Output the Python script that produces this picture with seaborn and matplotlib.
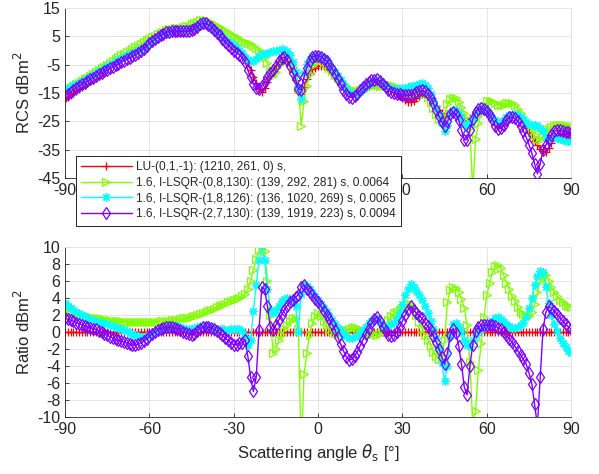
import numpy as np
import matplotlib
matplotlib.use("Agg")
import matplotlib.pyplot as plt
import seaborn as sns

# scattering angle, 1 degree steps
theta = np.arange(-90, 91)

# --- RCS (dBm^2) ---
rcs_lu = [
    -17.0, -16.3, -15.6, -14.9, -14.2, -13.5, -12.8, -12.1, -11.4, -10.7,
    -10.0, -9.3, -8.6, -7.9, -7.2, -6.5, -5.8, -5.1, -4.4, -3.7,
    -3.0, -2.4, -1.8, -1.2, -0.6, 0.0, 0.6, 1.2, 1.8, 2.4,
    3.0, 3.5, 4.0, 4.5, 5.0, 5.4, 5.8, 6.1, 6.3, 6.4,
    6.5, 6.6, 6.7, 6.9, 7.1, 7.4, 7.8, 8.3, 8.8, 9.1,
    9.0, 8.5, 7.8, 7.0, 6.2, 5.4, 4.6, 3.8, 3.0, 2.2,
    1.4, 0.6, -0.2, -1.2, -2.5, -4.5, -6.8, -9.2, -11.5, -13.5,
    -14.8, -13.2, -11.0, -9.0, -7.5, -6.0, -4.6, -3.6, -3.2, -3.6,
    -5.2, -7.5, -10.5, -14.0, -15.5, -13.0, -10.0, -8.0, -6.6, -6.0,
    -5.6, -5.4, -5.4, -5.8, -6.5, -7.4, -8.4, -9.5, -10.6, -11.7,
    -12.8, -13.8, -14.5, -14.8, -14.8, -14.4, -13.8, -13.2, -12.7, -12.3,
    -12.1, -12.0, -12.2, -12.6, -13.1, -13.6, -14.1, -14.6, -15.2, -15.9,
    -16.7, -17.5, -18.1, -18.3, -17.8, -16.9, -16.0, -15.4, -15.2, -15.6,
    -16.6, -18.0, -19.6, -21.0, -22.0, -22.5, -22.3, -22.0, -21.9, -22.1,
    -22.9, -24.0, -25.0, -25.0, -24.0, -22.8, -21.8, -21.2, -21.0, -21.4,
    -22.3, -23.6, -25.0, -26.3, -27.0, -26.8, -25.8, -24.5, -23.4, -22.9,
    -22.9, -23.4, -24.3, -25.5, -27.0, -28.6, -30.2, -31.8, -33.3, -34.6,
    -35.5, -35.7, -34.5, -32.5, -31.0, -30.2, -29.8, -29.6, -29.5, -29.4,
    -29.4,
]
rcs_g = [
    -14.4, -13.8, -13.2, -12.6, -12.0, -11.4, -10.8, -10.2, -9.6, -8.95,
    -8.3, -7.65, -7.0, -6.35, -5.7, -5.05, -4.4, -3.75, -3.1, -2.4,
    -1.75, -1.2, -0.6, 0.0, 0.55, 1.15, 1.75, 2.35, 2.95, 3.55,
    4.15, 4.7, 5.2, 5.7, 6.25, 6.7, 7.1, 7.45, 7.7, 7.8,
    7.95, 8.1, 8.3, 8.55, 8.8, 9.2, 9.7, 10.2, 10.6, 10.9,
    10.8, 10.5, 10.0, 9.4, 8.8, 8.2, 7.6, 7.0, 6.4, 5.8,
    5.2, 4.6, 4.0, 3.5, 3.0, 2.6, 2.2, 1.7, 1.0, 0.2,
    -1.0, -2.4, -4.5, -7.5, -9.0, -7.5, -5.0, -3.6, -2.9, -2.8,
    -3.9, -5.8, -8.8, -13.5, -26.5, -18.0, -12.5, -8.3, -5.6, -4.2,
    -3.4, -3.5, -4.1, -5.0, -6.1, -7.3, -8.5, -9.7, -10.7, -11.6,
    -12.6, -13.4, -14.0, -14.2, -14.3, -14.1, -13.8, -13.5, -13.0, -12.4,
    -12.3, -12.3, -12.4, -12.4, -12.3, -12.2, -12.2, -12.4, -12.8, -13.3,
    -13.9, -14.4, -14.8, -15.0, -15.0, -14.9, -14.8, -15.0, -15.5, -16.5,
    -18.2, -20.3, -22.4, -24.2, -25.0, -23.5, -18.8, -17.1, -16.6, -16.9,
    -18.2, -20.1, -22.2, -24.2, -27.5, -50.0, -31.1, -25.7, -22.3, -19.6,
    -18.0, -17.8, -18.0, -18.5, -19.1, -19.3, -19.1, -18.7, -18.4, -18.7,
    -19.3, -20.5, -21.9, -23.4, -25.1, -26.7, -28.5, -30.0, -31.2, -31.5,
    -30.0, -28.8, -27.8, -27.0, -26.6, -26.4, -26.3, -26.3, -26.4, -26.5,
    -26.6,
]
rcs_c = [
    -13.6, -13.2, -12.8, -12.3, -11.8, -11.3, -10.8, -10.25, -9.7, -9.15,
    -8.6, -8.0, -7.4, -6.8, -6.2, -5.6, -5.0, -4.4, -3.8, -3.2,
    -2.6, -2.15, -1.7, -1.3, -0.9, -0.4, 0.1, 0.6, 1.2, 1.9,
    2.6, 3.3, 4.0, 4.7, 5.3, 5.8, 6.3, 6.7, 7.0, 7.1,
    7.2, 7.2, 7.2, 7.3, 7.45, 7.8, 8.3, 8.9, 9.5, 9.8,
    9.7, 9.1, 8.3, 7.45, 6.6, 5.75, 4.9, 4.0, 3.2, 2.5,
    1.8, 1.0, 0.1, -1.0, -2.2, -3.2, -3.8, -3.8, -3.0, -2.0,
    -1.4, -1.1, -0.9, -0.6, -0.3, 0.0, 0.3, 0.4, 0.3, -0.2,
    -1.5, -3.9, -7.5, -13.0, -17.0, -8.0, -4.6, -3.0, -2.0, -1.8,
    -1.8, -2.1, -2.6, -3.5, -4.6, -6.0, -7.5, -9.0, -10.4, -11.9,
    -13.3, -14.5, -15.2, -15.4, -15.3, -14.6, -13.6, -12.6, -11.7, -11.0,
    -10.6, -10.4, -11.0, -11.9, -12.5, -12.9, -13.2, -13.5, -13.6, -13.5,
    -13.4, -13.2, -13.0, -12.7, -12.5, -12.1, -11.7, -11.6, -12.1, -13.4,
    -15.3, -17.7, -20.3, -22.9, -25.6, -28.3, -26.3, -22.5, -21.0, -21.0,
    -22.3, -24.0, -25.9, -26.5, -25.6, -23.8, -22.1, -21.0, -20.6, -20.8,
    -21.5, -22.7, -23.7, -24.6, -25.2, -25.3, -24.6, -23.6, -22.7, -22.4,
    -22.4, -22.8, -23.5, -24.4, -25.2, -25.8, -26.2, -26.3, -26.7, -27.4,
    -28.5, -30.4, -31.3, -31.0, -30.8, -30.9, -31.2, -31.5, -31.8, -32.1,
    -32.4,
]
rcs_p = [
    -16.0, -15.3, -14.6, -13.9, -13.2, -12.55, -11.95, -11.4, -10.8, -10.2,
    -9.6, -9.0, -8.45, -7.9, -7.4, -6.9, -6.35, -5.8, -5.25, -4.7,
    -4.1, -3.6, -3.1, -2.6, -2.1, -1.5, -0.85, -0.1, 0.7, 1.6,
    2.5, 3.3, 4.0, 4.7, 5.4, 5.9, 6.4, 6.7, 6.9, 6.9,
    6.85, 6.8, 6.75, 6.8, 6.85, 7.1, 7.6, 8.4, 9.2, 9.6,
    9.6, 9.1, 8.3, 7.3, 6.3, 5.3, 4.2, 3.1, 2.0, 0.9,
    -0.1, -0.9, -1.5, -2.5, -4.0, -6.8, -9.5, -11.8, -13.2, -13.6,
    -12.4, -11.0, -9.5, -8.0, -6.8, -5.4, -3.8, -2.6, -2.4, -3.2,
    -5.4, -7.8, -10.2, -13.5, -13.8, -9.5, -6.0, -3.6, -2.3, -1.8,
    -1.8, -2.2, -2.9, -3.8, -5.0, -6.5, -8.2, -10.1, -12.0, -13.9,
    -15.5, -16.5, -16.6, -16.0, -15.2, -14.1, -13.0, -11.9, -11.0, -10.5,
    -10.3, -10.2, -10.9, -12.0, -13.0, -13.9, -14.6, -15.0, -15.3, -15.5,
    -15.6, -15.7, -15.8, -15.8, -15.3, -14.7, -14.2, -14.0, -14.4, -15.2,
    -16.6, -18.7, -21.0, -23.2, -25.2, -26.6, -25.0, -22.5, -21.8, -22.4,
    -24.5, -28.0, -31.5, -31.5, -28.0, -24.3, -21.7, -20.6, -20.2, -20.6,
    -21.5, -22.8, -24.2, -26.8, -27.8, -27.5, -26.3, -24.6, -23.6, -23.5,
    -24.0, -25.0, -26.5, -28.4, -30.6, -33.2, -36.2, -40.0, -43.5, -40.0,
    -35.2, -33.4, -31.5, -29.7, -28.5, -28.1, -28.1, -28.3, -28.6, -28.8,
    -29.0,
]

# --- Ratio (dBm^2) ---
ratio_lu = [0.0] * 181  # reference solver: flat zero line
ratio_g = [
    2.6, 2.5, 2.4, 2.3, 2.2, 2.1, 2.0, 1.9, 1.8, 1.75,
    1.7, 1.65, 1.6, 1.55, 1.5, 1.45, 1.4, 1.35, 1.3, 1.3,
    1.25, 1.2, 1.2, 1.2, 1.15, 1.15, 1.15, 1.15, 1.15, 1.15,
    1.15, 1.2, 1.2, 1.2, 1.25, 1.3, 1.3, 1.35, 1.4, 1.4,
    1.45, 1.5, 1.6, 1.65, 1.7, 1.8, 1.9, 2.0, 2.1, 2.2,
    2.3, 2.45, 2.6, 2.75, 2.9, 3.05, 3.2, 3.35, 3.5, 3.65,
    3.8, 3.9, 4.0, 4.2, 4.5, 5.0, 6.0, 7.3, 8.6, 9.6,
    11.0, 9.5, 6.0, 2.0, -2.5, -2.0, -1.0, -0.4, 0.3, 0.8,
    1.3, 1.7, 1.6, 0.3, -14.0, -5.0, -2.5, -0.3, 1.0, 1.9,
    2.2, 1.9, 1.3, 0.8, 0.4, 0.1, -0.1, -0.2, -0.1, 0.1,
    0.2, 0.4, 0.5, 0.6, 0.5, 0.3, 0.0, -0.3, -0.3, -0.1,
    -0.2, -0.3, -0.2, 0.2, 0.8, 1.4, 1.9, 2.2, 2.4, 2.6,
    2.8, 3.1, 3.3, 3.3, 2.8, 2.0, 1.2, 0.4, -0.3, -0.9,
    -1.6, -2.3, -2.8, -3.2, -3.0, -1.0, 3.5, 4.9, 5.3, 5.2,
    4.7, 3.9, 2.8, 0.8, -3.5, -11.0, -9.3, -4.5, -1.3, 1.8,
    4.3, 5.8, 7.0, 7.8, 7.9, 7.5, 6.7, 5.8, 5.0, 4.2,
    3.6, 2.9, 2.4, 2.1, 1.9, 1.9, 2.3, 3.3, 4.7, 6.0,
    6.8, 6.7, 6.0, 5.3, 4.7, 4.2, 3.8, 3.5, 3.2, 3.0,
    2.9,
]
ratio_c = [
    3.4, 3.1, 2.8, 2.6, 2.4, 2.2, 2.0, 1.85, 1.7, 1.55,
    1.4, 1.3, 1.2, 1.1, 1.0, 0.9, 0.8, 0.7, 0.6, 0.5,
    0.4, 0.25, 0.1, -0.1, -0.3, -0.4, -0.5, -0.6, -0.6, -0.5,
    -0.4, -0.2, 0.0, 0.2, 0.3, 0.4, 0.5, 0.6, 0.7, 0.7,
    0.7, 0.6, 0.5, 0.4, 0.35, 0.4, 0.5, 0.6, 0.7, 0.7,
    0.7, 0.6, 0.5, 0.45, 0.4, 0.35, 0.3, 0.2, 0.2, 0.3,
    0.4, 0.4, 0.3, 0.1, -0.5, -1.5, -1.0, 2.5, 5.5, 8.5,
    10.2, 8.5, 5.0, 2.6, 2.2, 2.6, 3.1, 3.6, 3.9, 4.0,
    3.9, 3.8, 3.0, 0.0, 4.5, 5.6, 5.4, 5.0, 4.6, 4.2,
    3.8, 3.3, 2.8, 2.3, 1.9, 1.4, 0.9, 0.5, 0.2, -0.2,
    -0.5, -0.7, -0.7, -0.6, -0.5, -0.2, 0.2, 0.6, 1.0, 1.3,
    1.5, 1.6, 1.2, 0.7, 0.6, 0.7, 0.9, 1.1, 1.6, 2.4,
    3.3, 4.3, 5.1, 5.6, 5.3, 4.8, 4.3, 3.8, 3.1, 2.2,
    1.3, 0.3, -0.7, -1.9, -3.6, -5.8, -4.0, -0.5, 0.9, 1.1,
    0.6, 0.0, -0.9, -1.5, -1.6, -1.0, -0.3, 0.2, 0.4, 0.6,
    0.8, 0.9, 1.3, 1.7, 1.8, 1.5, 1.2, 0.9, 0.7, 0.5,
    0.5, 0.6, 0.8, 1.1, 1.8, 2.8, 4.0, 5.5, 6.6, 7.2,
    7.0, 5.3, 3.4, 2.0, 0.9, 0.1, -0.7, -1.3, -1.8, -2.2,
    -2.5,
]
ratio_p = [
    1.6, 1.5, 1.4, 1.25, 1.1, 0.95, 0.85, 0.7, 0.6, 0.5,
    0.4, 0.3, 0.15, 0.0, -0.2, -0.4, -0.55, -0.7, -0.85, -1.0,
    -1.1, -1.2, -1.3, -1.4, -1.5, -1.5, -1.45, -1.3, -1.1, -0.8,
    -0.5, -0.2, 0.0, 0.2, 0.4, 0.5, 0.6, 0.6, 0.6, 0.5,
    0.35, 0.2, 0.05, -0.1, -0.25, -0.3, -0.2, 0.1, 0.4, 0.55,
    0.6, 0.6, 0.5, 0.3, 0.1, -0.1, -0.4, -0.7, -1.0, -1.3,
    -1.5, -1.5, -1.3, -1.3, -0.9, -2.8, -5.3, -7.0, -5.3, 0.2,
    5.3, 5.0, 3.0, 0.6, 0.2, 0.8, 1.4, 2.0, 2.6, 3.1,
    3.5, 3.8, 4.1, 4.4, 5.3, 5.5, 5.1, 4.7, 4.3, 3.9,
    3.5, 3.0, 2.5, 2.0, 1.5, 0.9, 0.2, -0.6, -1.4, -2.2,
    -2.9, -3.3, -3.2, -2.8, -2.3, -1.6, -0.9, -0.2, 0.4, 1.0,
    1.5, 1.8, 1.3, 0.6, 0.1, -0.3, -0.5, -0.4, 0.0, 0.6,
    1.3, 2.0, 2.6, 3.0, 2.6, 2.2, 1.9, 1.6, 1.1, 0.7,
    0.2, -0.5, -1.2, -2.0, -2.9, -3.8, -2.5, -0.3, 0.4, -0.1,
    -1.6, -3.8, -6.5, -7.4, -4.0, -1.5, 0.1, 0.6, 0.8, 0.8,
    0.8, 0.8, 0.8, 0.7, 0.5, 0.3, 0.0, -0.4, -0.8, -1.2,
    -1.7, -2.2, -2.7, -3.2, -3.8, -4.8, -6.1, -8.5, -11.0, -5.3,
    0.3, 2.3, 3.0, 2.8, 2.5, 2.1, 1.7, 1.3, 0.9, 0.6,
    0.35,
]

labels = [
    "LU-(0,1,-1): (1210, 261, 0) s,",
    "1.6, I-LSQR-(0,8,130): (139, 292, 281) s, 0.0064",
    "1.6, I-LSQR-(1,8,126): (136, 1020, 269) s, 0.0065",
    "1.6, I-LSQR-(2,7,130): (139, 1919, 223) s, 0.0094",
]
colors = ["#ff0000", "#80ff00", "#00ffff", "#8000ff"]
markers = ["+", ">", (8, 2, 0), "d"]

for arr in [rcs_lu, rcs_g, rcs_c, rcs_p, ratio_lu, ratio_g, ratio_c, ratio_p]:
    assert len(arr) == len(theta)

sns.set_style("ticks")
plt.rcParams["font.family"] = ["Liberation Sans", "DejaVu Sans"]
plt.rcParams["axes.unicode_minus"] = False

TXT = "#262626"
GRID = "#e4e4e4"

fig = plt.figure(figsize=(5.99, 4.74), dpi=100)
ax_top = fig.add_axes([0.1085, 0.6245, 0.845, 0.3586])
ax_bot = fig.add_axes([0.1085, 0.1203, 0.845, 0.3586])


def draw_series(ax, series, with_label):
    for vals, lab, col, mk in zip(series, labels, colors, markers):
        sns.lineplot(
            x=theta, y=vals, ax=ax,
            color=col, linewidth=1.0,
            marker=mk, markersize=6,
            markerfacecolor="none", markeredgecolor=col, markeredgewidth=0.9,
            label=lab if with_label else None,
            legend=False,
        )


def style_axes(ax, ylim, yticks, ylabel):
    ax.set_xlim(-90, 90)
    ax.set_ylim(*ylim)
    ax.set_xticks(range(-90, 91, 30))
    ax.set_yticks(yticks)
    ax.grid(True, color=GRID, linewidth=0.7)
    ax.set_axisbelow(True)
    ax.tick_params(direction="in", length=3, width=0.6, colors=TXT,
                   labelsize=11.5, top=False, right=False, pad=3.5)
    for side in ["top", "right"]:
        ax.spines[side].set_color(GRID)
        ax.spines[side].set_linewidth(0.7)
    for side in ["left", "bottom"]:
        ax.spines[side].set_color(TXT)
        ax.spines[side].set_linewidth(0.6)
    ax.set_ylabel(ylabel, fontsize=12, color=TXT, labelpad=3)
    ax.set_xlabel("")


draw_series(ax_top, [rcs_lu, rcs_g, rcs_c, rcs_p], True)
draw_series(ax_bot, [ratio_lu, ratio_g, ratio_c, ratio_p], False)

style_axes(ax_top, (-45, 15), range(-45, 16, 10), "RCS dBm$^2$")
style_axes(ax_bot, (-10, 10), range(-10, 11, 2), "Ratio dBm$^2$")
ax_bot.set_xlabel(r"Scattering angle $\theta_{\mathrm{s}}$ [°]", fontsize=12, color=TXT, labelpad=4)

# the legend hides these upper tick labels in the original
ax_top.set_xticklabels(["-90", "", "", "", "30", "60", "90"])

handles, labs = ax_top.get_legend_handles_labels()
leg = ax_top.legend(
    handles, labs,
    loc="upper left", bbox_to_anchor=(76 / 599, 1 - 156 / 474),
    bbox_transform=fig.transFigure,
    fontsize=8.6, frameon=True, fancybox=False, framealpha=1,
    edgecolor="black", handlelength=4.2, numpoints=1,
    borderpad=0.45, labelspacing=0.3, handletextpad=0.35, borderaxespad=0,
)
leg.get_frame().set_linewidth(0.6)

fig.savefig("out.png", dpi=100)
